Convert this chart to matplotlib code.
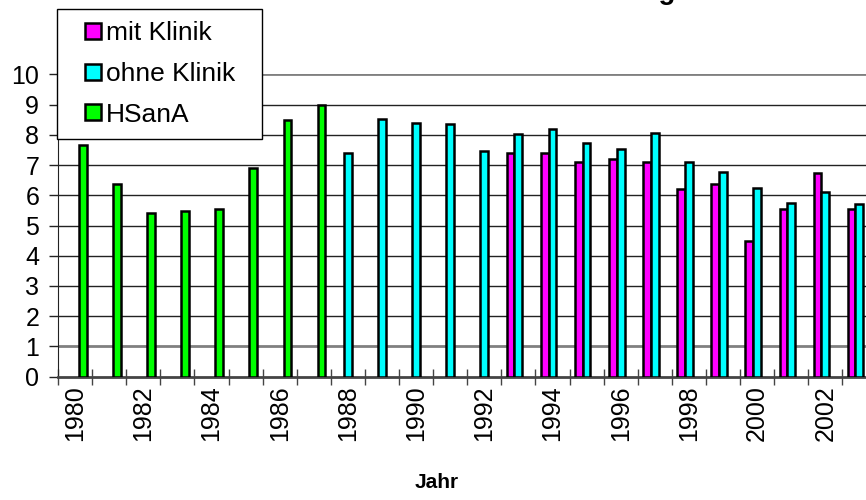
import numpy as np
import matplotlib
matplotlib.use("Agg")
import matplotlib.pyplot as plt
from matplotlib.lines import Line2D

plt.rcParams['font.family'] = ['Liberation Sans', 'DejaVu Sans']

years = list(range(1980, 2004))
# None = kein Wert in diesem Jahr
mit_klinik = [None] * 13 + [7.39, 7.39, 7.11, 7.19, 7.09, 6.21, 6.36, 4.50, 5.53, 6.75, 5.53]
ohne_klinik = [None] * 8 + [7.41, 8.51, 8.40, 8.37, 7.48, 8.04, 8.18, 7.74, 7.52, 8.07,
                            7.09, 6.76, 6.23, 5.75, 6.10, 5.71]
hsana = [7.66, 6.36, 5.40, 5.49, 5.53, 6.91, 8.49, 8.98] + [None] * 16

series = [("mit Klinik", mit_klinik, "#ff00ff"),
          ("ohne Klinik", ohne_klinik, "#00ffff"),
          ("HSanA", hsana, "#00ff00")]

fig = plt.figure(figsize=(8.66, 5.0), dpi=100)
# plot area runs a bit past the right edge of the figure
ax = fig.add_axes([58/866, 123.3/500, 24*34.1/866, 302.4/500])

bw = 0.226
x = np.arange(len(years))
for k, (name, vals, col) in enumerate(series):
    idx = [i for i, v in enumerate(vals) if v is not None]
    h = [vals[i] for i in idx]
    ax.bar(x[idx] + (k - 1) * bw, h, width=bw, color=col, edgecolor="black",
           linewidth=1.8, zorder=3)

ax.set_xlim(-0.5, len(years) - 0.5)
ax.set_ylim(0, 10)

# horizontal grid
for v in range(1, 11):
    if v in (1, 10):
        ax.axhline(v, color="#808080", lw=2.0, zorder=1)
    else:
        ax.axhline(v, color="#222222", lw=1.0, zorder=1)

for s in ("top", "right"):
    ax.spines[s].set_visible(False)
ax.spines["left"].set_color("#222222")
ax.spines["bottom"].set_color("#444444")
ax.spines["bottom"].set_linewidth(2.0)

ax.set_yticks(range(0, 11))
ax.tick_params(axis="y", direction="out", length=6.5, width=1, colors="#222222",
               labelsize=18, labelcolor="black", pad=7)

# ticks between categories, labels every second year
ax.set_xticks(np.arange(len(years) + 1) - 0.5)
ax.set_xticklabels([])
ax.tick_params(axis="x", which="major", direction="inout", length=12, width=1,
               colors="#444444")
ax.set_xticks(x[::2], minor=True)
ax.set_xticklabels([str(y) for y in years[::2]], minor=True, rotation=90)
ax.tick_params(axis="x", which="minor", length=0, labelsize=18, pad=6)

fig.text(437/866, 1 - 482/500, "Jahr", ha="center", va="center",
         fontsize=15, fontweight="bold")
fig.text(676/866, 1.002, "Entwicklung", ha="right", va="baseline",
         fontsize=20, fontweight="bold")

handles = [Line2D([], [], linestyle="None", marker="s", markersize=12,
                  markerfacecolor=c, markeredgecolor="black", markeredgewidth=1.8)
           for _, _, c in series]
leg = fig.legend(handles, [n for n, _, _ in series], loc="upper left",
                 bbox_to_anchor=(57/866, 1 - 135/500, 205/866, 126/500),
                 mode="expand", fontsize=19,
                 frameon=True, fancybox=False, framealpha=1, edgecolor="black",
                 handlelength=1.8, handletextpad=-0.4,
                 labelspacing=0.64, borderpad=0.45, borderaxespad=0)
leg.get_frame().set_linewidth(1.0)
leg.set_zorder(10)

fig.savefig("out.png", dpi=100)
